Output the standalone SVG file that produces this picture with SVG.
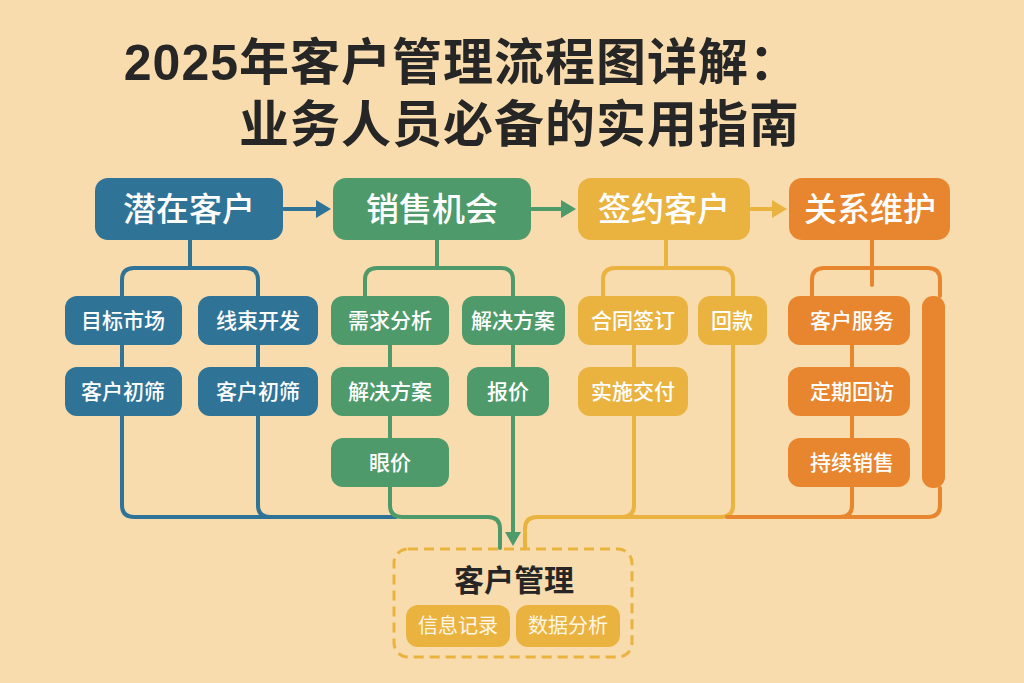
<svg xmlns="http://www.w3.org/2000/svg" width="1024" height="683" viewBox="0 0 1024 683">
<defs>
<style>
.title{font-family:"Liberation Sans","Noto Sans CJK SC",sans-serif;font-weight:700;font-size:50px;letter-spacing:1px;fill:#262626;text-anchor:end}
.top{font-family:"Noto Sans CJK SC",sans-serif;font-weight:500;font-size:33px;fill:#ffffff;text-anchor:middle}
.sub{font-family:"Noto Sans CJK SC",sans-serif;font-weight:500;font-size:21px;fill:#ffffff;text-anchor:middle}
.pill{font-family:"Noto Sans CJK SC",sans-serif;font-weight:400;font-size:20px;fill:#fff6e6;text-anchor:middle}
.hub{font-family:"Noto Sans CJK SC",sans-serif;font-weight:700;font-size:30px;fill:#262626;text-anchor:middle}
.blue{fill:#2f7397}.green{fill:#4e9a6b}.yellow{fill:#eab33f}.orange{fill:#e8862f}
.ln{fill:none;stroke-width:4;stroke-linecap:round;stroke-linejoin:round}
.lb{stroke:#2f7397}.lg{stroke:#4e9a6b}.ly{stroke:#eab33f}.lo{stroke:#e8862f}
</style>
</defs>
<rect width="1024" height="683" fill="#f9dcad"/>
<text class="title" x="800" y="80">2025年客户管理流程图详解：</text>
<text class="title" x="800" y="142">业务人员必备的实用指南</text>

<g id="connectors">
<path d="M284,209 H318" class="ln lb"/><path d="M316,200 L331,209 L316,218 z" class="blue"/>
<path d="M532,209 H563" class="ln lg"/><path d="M561,200 L576,209 L561,218 z" class="green"/>
<path d="M751,209 H774" class="ln ly"/><path d="M772,200 L787,209 L772,218 z" class="yellow"/>
<path d="M190,240 V268" class="ln lb"/>
<path d="M122,296 V280 Q122,268 134,268 H246 Q258,268 258,280 V296" class="ln lb"/>
<path d="M122,345 V367 M258,345 V367" class="ln lb"/>
<path d="M122,415 V505 Q122,517 134,517 H396" class="ln lb"/>
<path d="M258,415 V505 Q258,517 270,517" class="ln lb"/>
<path d="M437,240 V268" class="ln lg"/>
<path d="M365,296 V280 Q365,268 377,268 H501 Q513,268 513,280 V296" class="ln lg"/>
<path d="M390,345 V367 M390,416 V438 M513,345 V367" class="ln lg"/>
<path d="M390,487 V505 Q390,517 402,517 H488 Q500,517 500,529 V548" class="ln lg"/>
<path d="M513,416 V534" class="ln lg"/><path d="M505,532 L521,532 L513,546 z" class="green"/>
<path d="M666,240 V268" class="ln ly"/>
<path d="M603,296 V280 Q603,268 615,268 H721 Q733,268 733,280 V296" class="ln ly"/>
<path d="M634,345 V367" class="ln ly"/>
<path d="M733,345 V505 Q733,517 721,517 H537 Q525,517 525,529 V548" class="ln ly"/>
<path d="M634,416 V505 Q634,517 622,517" class="ln ly"/>
<path d="M872,240 V285" class="ln lo"/>
<path d="M812,296 V280 Q812,268 824,268 H928 Q940,268 940,280 V296" class="ln lo"/>
<path d="M852,345 V367 M852,416 V438" class="ln lo"/>
<path d="M940,488 V505 Q940,517 928,517 H727" class="ln lo"/>
<path d="M852,487 V505 Q852,517 840,517" class="ln lo"/>
</g>

<g id="n-qianzai"><rect x="95" y="178" width="188" height="62" rx="13" class="blue"/><text class="top" x="189" y="221">潜在客户</text></g>
<g id="n-xiaoshou"><rect x="333" y="178" width="198" height="62" rx="13" class="green"/><text class="top" x="432" y="221">销售机会</text></g>
<g id="n-qianyue"><rect x="578" y="178" width="172" height="62" rx="13" class="yellow"/><text class="top" x="664" y="221">签约客户</text></g>
<g id="n-guanxi"><rect x="789" y="178" width="161" height="62" rx="13" class="orange"/><text class="top" x="870" y="221">关系维护</text></g>

<g id="b1"><rect x="65" y="296" width="117" height="49" rx="12" class="blue"/><text class="sub" x="123" y="328">目标市场</text></g>
<g id="b2"><rect x="198" y="296" width="120" height="49" rx="12" class="blue"/><text class="sub" x="258" y="328">线束开发</text></g>
<g id="b3"><rect x="65" y="367" width="117" height="49" rx="12" class="blue"/><text class="sub" x="123" y="399">客户初筛</text></g>
<g id="b4"><rect x="198" y="367" width="120" height="49" rx="12" class="blue"/><text class="sub" x="258" y="399">客户初筛</text></g>

<g id="g1"><rect x="331" y="296" width="118" height="49" rx="12" class="green"/><text class="sub" x="390" y="328">需求分析</text></g>
<g id="g2"><rect x="462" y="296" width="103" height="49" rx="12" class="green"/><text class="sub" x="513" y="328">解决方案</text></g>
<g id="g3"><rect x="331" y="367" width="118" height="49" rx="12" class="green"/><text class="sub" x="390" y="399">解决方案</text></g>
<g id="g4"><rect x="467" y="367" width="82" height="49" rx="12" class="green"/><text class="sub" x="508" y="399">报价</text></g>
<g id="g5"><rect x="331" y="438" width="118" height="49" rx="12" class="green"/><text class="sub" x="390" y="470">眼价</text></g>

<g id="y1"><rect x="578" y="296" width="110" height="49" rx="12" class="yellow"/><text class="sub" x="633" y="328">合同签订</text></g>
<g id="y2"><rect x="698" y="296" width="69" height="49" rx="12" class="yellow"/><text class="sub" x="732" y="328">回款</text></g>
<g id="y3"><rect x="578" y="367" width="110" height="49" rx="12" class="yellow"/><text class="sub" x="633" y="399">实施交付</text></g>

<g id="o1"><rect x="788" y="296" width="122" height="49" rx="12" class="orange"/><text class="sub" x="852" y="328">客户服务</text></g>
<g id="o2"><rect x="788" y="367" width="122" height="49" rx="12" class="orange"/><text class="sub" x="852" y="399">定期回访</text></g>
<g id="o3"><rect x="788" y="438" width="122" height="49" rx="12" class="orange"/><text class="sub" x="852" y="470">持续销售</text></g>
<g id="o-bar"><rect x="922" y="296" width="23" height="192" rx="11" class="orange"/></g>

<g id="hub">
<rect x="394" y="549" width="238" height="108" rx="14" fill="none" stroke="#eab33f" stroke-width="3" stroke-dasharray="10 6"/>
<text class="hub" x="514" y="591">客户管理</text>
<rect x="406" y="605" width="104" height="42" rx="12" class="yellow"/><text class="pill" x="458" y="633">信息记录</text>
<rect x="516" y="605" width="104" height="42" rx="12" class="yellow"/><text class="pill" x="568" y="633">数据分析</text>
</g>
</svg>
